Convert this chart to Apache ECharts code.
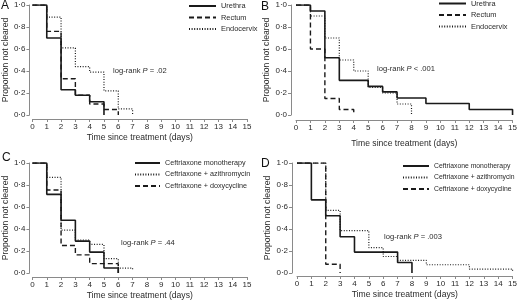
<!DOCTYPE html>
<html>
<head>
<meta charset="utf-8">
<script src="https://cdn.jsdelivr.net/npm/echarts@6/dist/echarts.min.js"></script>
<style>
  html, body { margin: 0; padding: 0; background: #fff; }
  #main { width: 520px; height: 303px; }
</style>
</head>
<body>
<div id="main"></div>
<script>
// A: 按部位
var aUrethraT = [0, 1, 2, 3, 4, 5];
var aUrethraS = [1, 0.70, 0.23, 0.18, 0.12, 0];
var aRectumT = [0, 1, 2, 3, 4, 5, 6];
var aRectumS = [1, 0.76, 0.33, 0.18, 0.10, 0.05, 0];
var aEndoT = [0, 1, 2, 3, 4, 5, 6, 7];
var aEndoS = [1, 0.89, 0.61, 0.44, 0.39, 0.22, 0.055, 0];

// B: 按部位
var bUrethraT = [0, 1, 2, 3, 5, 6, 7, 9, 12, 15];
var bUrethraS = [1, 0.945, 0.52, 0.315, 0.26, 0.21, 0.155, 0.105, 0.05, 0];
var bRectumT = [0, 1, 2, 3, 4];
var bRectumS = [1, 0.60, 0.15, 0.05, 0];
var bEndoT = [0, 1, 2, 3, 4, 5, 6, 7, 8];
var bEndoS = [1, 0.90, 0.70, 0.50, 0.40, 0.25, 0.20, 0.10, 0];

// C: 按治疗方案
var cMonoT = [0, 1, 2, 3, 4, 5, 6];
var cMonoS = [1, 0.715, 0.48, 0.29, 0.19, 0.045, 0];
var cAziT = [0, 1, 2, 3, 4, 5, 6, 7];
var cAziS = [1, 0.87, 0.39, 0.30, 0.26, 0.13, 0.045, 0.02];
var cDoxyT = [0, 1, 2, 3, 4, 6];
var cDoxyS = [1, 0.755, 0.25, 0.165, 0.085, 0];

// D: 按治疗方案
var dMonoT = [0, 1, 2, 3, 4, 7, 8];
var dMonoS = [1, 0.665, 0.52, 0.33, 0.19, 0.095, 0];
var dAziT = [0, 2, 3, 5, 6, 7, 9, 12, 15];
var dAziS = [1, 0.57, 0.385, 0.23, 0.15, 0.115, 0.075, 0.036, 0.015];
var dDoxyT = [0, 2, 3];
var dDoxyS = [1, 0.08, 0];

var pValues = ['= .02', '< .001', '= .44', '= .003'];

var FONT = 'Liberation Sans, Arial, sans-serif';
var AXIS_COLOR = '#8a8a8a';
var TEXT_COLOR = '#2a2a2a';

function pairs(t, s) {
  var out = [];
  for (var i = 0; i < t.length; i++) out.push([t[i], s[i]]);
  return out;
}

var styles = {
  solid: { type: 'solid', width: 1.6 },
  dashed: { type: [5, 3], width: 1.4 },
  dotted: { type: [1, 1.6], width: 1.2 }
};

function km(name, t, s, st, idx) {
  return {
    name: name,
    type: 'line',
    step: 'end',
    xAxisIndex: idx,
    yAxisIndex: idx,
    symbol: 'none',
    animation: false,
    lineStyle: { color: '#1a1a1a', width: styles[st].width, type: styles[st].type },
    itemStyle: { color: '#1a1a1a' },
    data: pairs(t, s)
  };
}

// 四个面板的位置
var panels = [
  { left: 29, top: 5, width: 218, height: 110, yOff: 3, xOff: 4, xGap: 14 },
  { left: 296, top: 5, width: 218, height: 110, yOff: 5, xOff: 5, xGap: 19 },
  { left: 30, top: 163, width: 217, height: 110, yOff: 3, xOff: 4, xGap: 14 },
  { left: 297, top: 163, width: 218, height: 110, yOff: 5, xOff: 3, xGap: 14 }
];

var grids = [], xAxes = [], yAxes = [];
panels.forEach(function (p, i) {
  grids.push({ left: p.left, top: p.top, width: p.width, height: p.height });
  xAxes.push({
    type: 'value', gridIndex: i, min: 0, max: 15, interval: 1,
    offset: p.xOff,
    name: 'Time since treatment (days)', nameLocation: 'middle', nameGap: p.xGap,
    nameTextStyle: { fontFamily: FONT, fontSize: 8.6, color: TEXT_COLOR },
    axisLine: { onZero: false, lineStyle: { color: AXIS_COLOR } },
    axisTick: { length: 3, lineStyle: { color: AXIS_COLOR } },
    axisLabel: { fontFamily: FONT, fontSize: 8, color: TEXT_COLOR, margin: 4 },
    splitLine: { show: false }
  });
  yAxes.push({
    type: 'value', gridIndex: i, min: 0, max: 1, interval: 0.2,
    offset: p.yOff,
    name: 'Proportion not cleared', nameLocation: 'middle', nameGap: 15,
    nameTextStyle: { fontFamily: FONT, fontSize: 8.6, color: TEXT_COLOR },
    axisLine: { show: true, onZero: false, lineStyle: { color: AXIS_COLOR } },
    axisTick: { show: true, length: 3, lineStyle: { color: AXIS_COLOR } },
    axisLabel: {
      fontFamily: FONT, fontSize: 8, color: TEXT_COLOR, margin: 4,
      formatter: function (v) { return v.toFixed(1).replace('.', '\u00b7'); }
    },
    splitLine: { show: false }
  });
});

var series = [
  km('Urethra', aUrethraT, aUrethraS, 'solid', 0),
  km('Rectum', aRectumT, aRectumS, 'dashed', 0),
  km('Endocervix', aEndoT, aEndoS, 'dotted', 0),
  km('Urethra', bUrethraT, bUrethraS, 'solid', 1),
  km('Rectum', bRectumT, bRectumS, 'dashed', 1),
  km('Endocervix', bEndoT, bEndoS, 'dotted', 1),
  km('Ceftriaxone monotherapy', cMonoT, cMonoS, 'solid', 2),
  km('Ceftriaxone + azithromycin', cAziT, cAziS, 'dotted', 2),
  km('Ceftriaxone + doxycycline', cDoxyT, cDoxyS, 'dashed', 2),
  km('Ceftriaxone monotherapy', dMonoT, dMonoS, 'solid', 3),
  km('Ceftriaxone + azithromycin', dAziT, dAziS, 'dotted', 3),
  km('Ceftriaxone + doxycycline', dDoxyT, dDoxyS, 'dashed', 3)
];

function legend(names, left, top, w, fs) {
  return {
    data: names, orient: 'vertical', left: left, top: top, padding: 0,
    itemWidth: w, itemHeight: 6, itemGap: 4.5, selectedMode: false,
    itemStyle: { opacity: 0 },
    textStyle: { fontFamily: FONT, fontSize: fs, color: TEXT_COLOR }
  };
}
var siteNames = ['Urethra', 'Rectum', 'Endocervix'];
var drugNames = ['Ceftriaxone monotherapy', 'Ceftriaxone + azithromycin', 'Ceftriaxone + doxycycline'];

function pText(x, y, p) {
  return {
    type: 'text', left: x, top: y,
    style: {
      text: '{a|log-rank }{i|P}{a| ' + p + '}',
      rich: {
        a: { fontFamily: FONT, fontSize: 7.6, fill: TEXT_COLOR },
        i: { fontFamily: FONT, fontSize: 7.6, fontStyle: 'italic', fill: TEXT_COLOR }
      }
    }
  };
}
function letter(x, y, s) {
  return { type: 'text', left: x, top: y, style: { text: s, fontFamily: FONT, fontSize: 12, fill: '#111' } };
}

var option = {
  backgroundColor: '#fff',
  animation: false,
  grid: grids,
  xAxis: xAxes,
  yAxis: yAxes,
  legend: [
    legend(siteNames, 188, 2.5, 27, 7.4),
    legend(siteNames, 438, 0, 27, 7.4),
    legend(drugNames, 134, 159.5, 25, 7.2),
    legend(drugNames, 402, 162.5, 26, 6.8)
  ],
  graphic: [
    letter(1, 0, 'A'), letter(261, 1, 'B'), letter(2, 152, 'C'), letter(261, 158, 'D'),
    pText(113, 67, pValues[0]), pText(377, 65, pValues[1]),
    pText(121, 239, pValues[2]), pText(384, 233, pValues[3])
  ],
  series: series
};

var myChart = echarts.init(document.getElementById('main'), null, { renderer: 'canvas' });
myChart.setOption(option);
</script>
</body>
</html>
